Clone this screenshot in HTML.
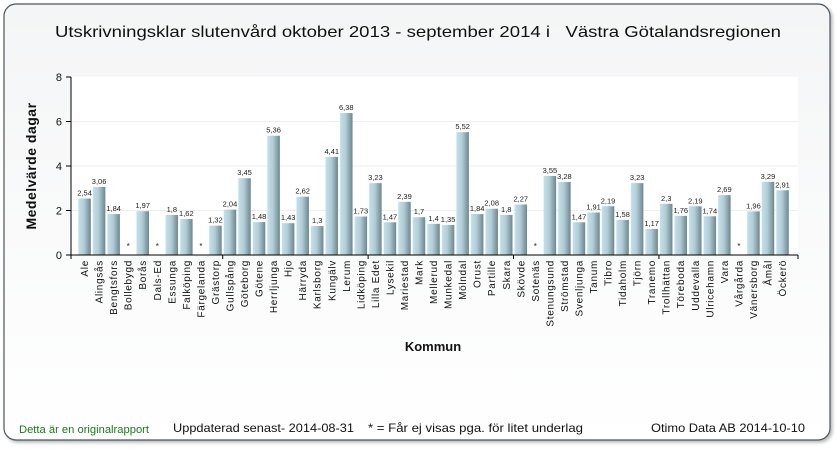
<!DOCTYPE html>
<html><head><meta charset="utf-8"><style>
html,body{margin:0;padding:0;width:840px;height:450px;background:#fff;overflow:hidden}
svg{display:block;font-family:"Liberation Sans",sans-serif}
</style></head><body>
<svg width="840" height="450" viewBox="0 0 840 450">
<defs>
<linearGradient id="bg" x1="0" y1="0" x2="0" y2="1"><stop offset="0" stop-color="#f4f5f6"/><stop offset="1" stop-color="#ffffff"/></linearGradient>
<linearGradient id="bar" x1="0" y1="0" x2="1" y2="0"><stop offset="0" stop-color="#c4e0ea"/><stop offset="0.45" stop-color="#b2cdd6"/><stop offset="1" stop-color="#6d8790"/></linearGradient>
<filter id="sh" x="-5%" y="-5%" width="110%" height="110%"><feDropShadow dx="2" dy="2" stdDeviation="1.5" flood-color="#888" flood-opacity="0.6"/></filter>
</defs>
<rect x="4" y="4" width="826" height="436" rx="12" fill="url(#bg)" stroke="#4a5560" stroke-width="1.2" filter="url(#sh)"/>
<text x="418" y="37" text-anchor="middle" font-size="16" fill="#111" textLength="726" lengthAdjust="spacingAndGlyphs">Utskrivningsklar slutenvård oktober 2013 - september 2014 i &#160;&#160;Västra Götalandsregionen</text>
<rect x="71" y="77" width="727" height="178" fill="#fff"/>
<g id="grid"></g>
<g id="bars"></g>
<g id="axes"></g>
<text transform="translate(36,166) rotate(-90)" text-anchor="middle" font-size="14" font-weight="bold" fill="#111" letter-spacing="0.5">Medelvärde dagar</text>
<text x="433" y="351" text-anchor="middle" font-size="13" font-weight="bold" fill="#111">Kommun</text>
<text x="19" y="433" font-size="11" fill="#1a7a1a" textLength="130" lengthAdjust="spacingAndGlyphs">Detta är en originalrapport</text>
<text x="173" y="432" font-size="12" fill="#111" textLength="181" lengthAdjust="spacingAndGlyphs">Uppdaterad senast- 2014-08-31</text>
<text x="368" y="432" font-size="12" fill="#111" textLength="215" lengthAdjust="spacingAndGlyphs">* = Får ej visas pga. för litet underlag</text>
<text x="651" y="432" font-size="12" fill="#111" textLength="154" lengthAdjust="spacingAndGlyphs">Otimo Data AB 2014-10-10</text>
</svg>
<script>
const categories=["Ale","Alingsås","Bengtsfors","Bollebygd","Borås","Dals-Ed","Essunga","Falköping","Färgelanda","Grästorp","Gullspång","Göteborg","Götene","Herrljunga","Hjo","Härryda","Karlsborg","Kungälv","Lerum","Lidköping","Lilla Edet","Lysekil","Mariestad","Mark","Mellerud","Munkedal","Mölndal","Orust","Partille","Skara","Skövde","Sotenäs","Stenungsund","Strömstad","Svenljunga","Tanum","Tibro","Tidaholm","Tjörn","Tranemo","Trollhättan","Töreboda","Uddevalla","Ulricehamn","Vara","Vårgårda","Vänersborg","Åmål","Öckerö"];
const values=[2.54,3.06,1.84,null,1.97,null,1.8,1.62,null,1.32,2.04,3.45,1.48,5.36,1.43,2.62,1.3,4.41,6.38,1.73,3.23,1.47,2.39,1.7,1.4,1.35,5.52,1.84,2.08,1.8,2.27,null,3.55,3.28,1.47,1.91,2.19,1.58,3.23,1.17,2.3,1.76,2.19,1.74,2.69,null,1.96,3.29,2.91];
const yTicks=[0,2,4,6,8];
const NS="http://www.w3.org/2000/svg";
const X0=77.3,X1=789.8,Y0=255,Y1=77,YMAX=8;
const step=(X1-X0)/categories.length;
function xc(i){return X0+step*(i+0.5);}
function yv(v){return Y0-(v/YMAX)*(Y0-Y1);}
function mk(tag,attrs,parent){const e=document.createElementNS(NS,tag);for(const k in attrs)e.setAttribute(k,attrs[k]);parent.appendChild(e);return e;}
const grid=document.getElementById('grid'),bars=document.getElementById('bars'),axes=document.getElementById('axes');
yTicks.forEach(t=>{
  if(t>0&&t<YMAX){const g=mk('line',{x1:71,x2:798,y1:yv(t),y2:yv(t),stroke:'#eceeef','stroke-width':1},grid);
  
  }
  const tk=mk('line',{x1:66,x2:71,y1:yv(t),y2:yv(t),stroke:'#000'},axes);
  
  
  const lb=mk('text',{x:62,y:yv(t)+4,'text-anchor':'end','font-size':11,fill:'#111'},axes);
  lb.textContent=t;
  
  
});
const bw=step*0.86;
categories.forEach((c,i)=>{
  const v=values[i],cx=xc(i);
  if(v!=null){
    const r=mk('rect',{x:cx-bw/2,y:yv(v),width:bw,height:Y0-yv(v),fill:'url(#bar)'},bars);
    
    
    const t=mk('text',{x:cx,y:yv(v)-3,'text-anchor':'middle','font-size':7.5,fill:'#222'},bars);
    t.textContent=String(v).replace('.',',');
    
    
  } else {
    const t=mk('text',{x:cx,y:Y0-6,'text-anchor':'middle','font-size':8,fill:'#222'},bars);
    t.textContent='*';
    
    
  }
  const l=mk('text',{transform:'translate('+(cx+3.5)+',260) rotate(-90)','text-anchor':'end','font-size':10,'letter-spacing':0.7,fill:'#111'},axes);
  l.textContent=c;
  
  
  if(i%10===0&&i>0){const tk=mk('line',{x1:X0+step*i,x2:X0+step*i,y1:Y0,y2:Y0+4,stroke:'#000'},axes);
  
  }
});
const ya=mk('line',{x1:71,x2:71,y1:Y1,y2:Y0+4,stroke:'#000'},axes);


const xa=mk('line',{x1:71,x2:798,y1:Y0,y2:Y0,stroke:'#000'},axes);


const xe=mk('line',{x1:798,x2:798,y1:Y0,y2:Y0+4,stroke:'#000'},axes);


</script>
</body></html>
